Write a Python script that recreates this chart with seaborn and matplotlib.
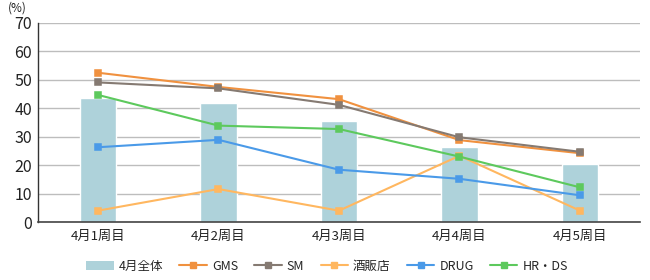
import matplotlib
matplotlib.use("Agg")
import matplotlib.pyplot as plt
import seaborn as sns
import pandas as pd
from matplotlib.lines import Line2D
from matplotlib.patches import Patch

weeks = ["4月1周目", "4月2周目", "4月3周目", "4月4周目", "4月5周目"]
total = [43.6, 41.9, 35.4, 26.5, 20.3]
gms = [52.5, 47.5, 43.2, 28.8, 24.2]
sm = [49.1, 47.0, 41.2, 29.8, 24.7]
liquor = [4.0, 11.6, 4.0, 23.3, 4.0]
drug = [26.3, 28.9, 18.4, 15.2, 9.4]
hrds = [44.7, 33.9, 32.7, 23.0, 12.2]

series_names = ["GMS", "SM", "酒販店", "DRUG", "HR・DS"]
series_vals = [gms, sm, liquor, drug, hrds]
colors = ["#f0913f", "#857a72", "#ffb760", "#4a9ae8", "#5dc95d"]
bar_color = "#aed2da"

sns.set_theme(style="white")
plt.rcParams['font.family'] = ['Noto Sans CJK JP', 'DejaVu Sans']

fig = plt.figure(figsize=(6.5, 2.8), dpi=100)
ax = fig.add_axes([0.058, 0.207, 0.927, 0.711])

df_bar = pd.DataFrame({"week": weeks, "value": total})
sns.barplot(data=df_bar, x="week", y="value", color=bar_color, width=0.3,
            saturation=1, ax=ax, zorder=2)

rows = []
for name, vals in zip(series_names, series_vals):
    for w, v in zip(weeks, vals):
        rows.append({"week": w, "value": v, "series": name})
df_lines = pd.DataFrame(rows)
sns.pointplot(data=df_lines, x="week", y="value", hue="series",
              hue_order=series_names, palette=colors, markers="s",
              markersize=4.5, linewidth=1.5, legend=False, ax=ax, zorder=3)

ax.set_ylim(0, 70)
ax.set_xlim(-0.5, 4.5)
ax.set_yticks(range(0, 71, 10))
ax.yaxis.grid(True, color="#bdbdbd", linewidth=1)
ax.set_axisbelow(True)
ax.set_xlabel("")
ax.set_ylabel("")
for s in ["top", "right"]:
    ax.spines[s].set_visible(False)
ax.spines["left"].set_color("#333333")
ax.spines["left"].set_linewidth(1)
ax.spines["bottom"].set_color("#444444")
ax.spines["bottom"].set_linewidth(1.2)
ax.tick_params(axis="y", labelsize=11.5, length=0, pad=4, colors="#222222")
ax.tick_params(axis="x", labelsize=9.5, length=0, pad=6, colors="#222222")
fig.text(0.012, 0.97, "(%)", fontsize=8.5, color="#222222", va="center")

handles = [Patch(facecolor=bar_color, edgecolor="none", label="4月全体")]
for name, c in zip(series_names, colors):
    handles.append(Line2D([0], [0], color=c, marker="s", markersize=4.5,
                          linewidth=1.5, label=name))
fig.legend(handles=handles, loc="center", bbox_to_anchor=(0.503, 0.05), ncol=6,
           frameon=False, fontsize=9, handlelength=2.2, columnspacing=1.3,
           handletextpad=0.4)

fig.savefig("out.png", dpi=100)
